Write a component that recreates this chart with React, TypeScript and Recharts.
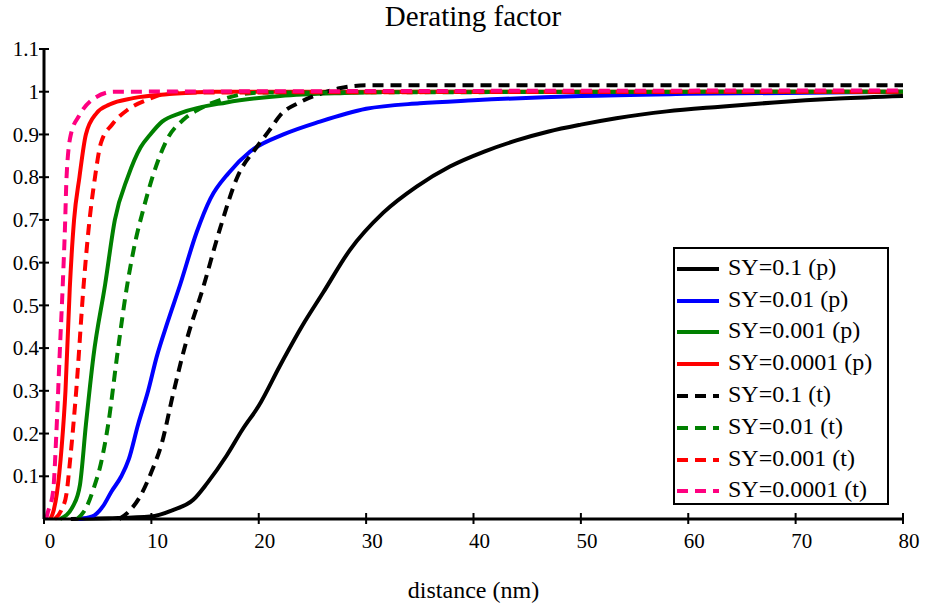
import React from 'react';
import { LineChart, Line, XAxis, YAxis, Legend } from 'recharts';

const FONT = '"Liberation Serif", "Times New Roman", serif';

const xTicks = [0, 10, 20, 30, 40, 50, 60, 70, 80];
const yTicks = [0.1, 0.2, 0.3, 0.4, 0.5, 0.6, 0.7, 0.8, 0.9, 1, 1.1];

// SY=0.1 (p)
const sy1pDist = [2.5, 6, 9.9, 12, 13.9, 15.2, 17, 18.5, 20, 22, 24, 26, 28.5, 31.6, 34.7, 37.8, 41, 44, 47, 50, 53.3, 58, 63, 68, 74, 80];
const sy1pVal = [0, 0.002, 0.006, 0.021, 0.045, 0.084, 0.148, 0.21, 0.265, 0.36, 0.45, 0.53, 0.63, 0.717, 0.778, 0.825, 0.86, 0.886, 0.907, 0.923, 0.938, 0.954, 0.965, 0.975, 0.984, 0.99];

// SY=0.01 (p)
const sy01pDist = [3.2, 4.5, 5.5, 6.3, 7.2, 7.9, 8.75, 9.7, 10.5, 11.5, 12.7, 14.2, 15.5, 17.2, 19.2, 22.3, 25.7, 30, 35, 40, 50, 60, 80];
const sy01pVal = [0, 0.006, 0.03, 0.065, 0.1, 0.14, 0.22, 0.3, 0.38, 0.46, 0.55, 0.67, 0.75, 0.81, 0.86, 0.9, 0.93, 0.96, 0.973, 0.98, 0.99, 0.995, 1.0];

// SY=0.001 (p)
const sy001pDist = [1.5, 2.7, 3.35, 3.9, 4.6, 5.7, 6.6, 7.8, 9.0, 9.9, 11, 12.7, 17, 22, 28, 35, 80];
const sy001pVal = [0, 0.03, 0.08, 0.22, 0.38, 0.55, 0.7, 0.8, 0.87, 0.9, 0.93, 0.95, 0.975, 0.99, 0.997, 1.0, 1.0];

// SY=0.0001 (p)
const sy0001pDist = [0.6, 0.9, 1.2, 1.65, 2.0, 2.4, 2.8, 3.3, 3.9, 4.9, 6.1, 8.3, 12, 16, 80];
const sy0001pVal = [0, 0.02, 0.06, 0.17, 0.3, 0.54, 0.7, 0.8, 0.9, 0.95, 0.97, 0.985, 0.995, 1.0, 1.0];

// SY=0.1 (t)
const sy1tDist = [7.0, 7.8, 9.0, 10.0, 11.0, 12.0, 13.3, 14.8, 16.4, 18.0, 19.8, 21, 22, 23.8, 25.5, 27.5, 30, 80];
const sy1tVal = [0, 0.015, 0.055, 0.11, 0.18, 0.29, 0.42, 0.54, 0.68, 0.8, 0.87, 0.91, 0.945, 0.975, 0.993, 1.008, 1.015, 1.015];

// SY=0.01 (t)
const sy01tDist = [3.1, 4.0, 4.6, 5.3, 6.0, 6.8, 7.7, 8.6, 9.2, 10.1, 11.5, 13, 14.5, 17, 20, 80];
const sy01tVal = [0, 0.03, 0.07, 0.13, 0.225, 0.38, 0.54, 0.66, 0.72, 0.8, 0.89, 0.935, 0.96, 0.985, 0.998, 1.0];

// SY=0.001 (t)
const sy001tDist = [1.0, 1.6, 2.1, 2.4, 3.0, 3.7, 4.2, 4.75, 5.3, 6.4, 7.8, 9.7, 12, 80];
const sy001tVal = [0, 0.02, 0.06, 0.13, 0.3, 0.55, 0.69, 0.8, 0.88, 0.925, 0.958, 0.982, 0.998, 1.0];

// SY=0.0001 (t)
const sy0001tDist = [0.2, 0.35, 0.85, 1.15, 1.45, 1.75, 1.95, 2.1, 2.5, 3.3, 4.7, 6.5, 80];
const sy0001tVal = [0, 0.015, 0.065, 0.2, 0.38, 0.55, 0.68, 0.8, 0.9, 0.945, 0.985, 1.0, 1.003];

const toPoints = (dist: number[], val: number[]) => dist.map((d, i) => ({ d, v: val[i] }));

const series = [
  { name: 'SY=0.1 (p)', dist: sy1pDist, val: sy1pVal, color: '#000000', dashed: false },
  { name: 'SY=0.01 (p)', dist: sy01pDist, val: sy01pVal, color: '#0000ff', dashed: false },
  { name: 'SY=0.001 (p)', dist: sy001pDist, val: sy001pVal, color: '#008000', dashed: false },
  { name: 'SY=0.0001 (p)', dist: sy0001pDist, val: sy0001pVal, color: '#ff0000', dashed: false },
  { name: 'SY=0.1 (t)', dist: sy1tDist, val: sy1tVal, color: '#000000', dashed: true },
  { name: 'SY=0.01 (t)', dist: sy01tDist, val: sy01tVal, color: '#008000', dashed: true },
  { name: 'SY=0.001 (t)', dist: sy001tDist, val: sy001tVal, color: '#ff0000', dashed: true },
  { name: 'SY=0.0001 (t)', dist: sy0001tDist, val: sy0001tVal, color: '#ff0080', dashed: true },
];

const DASH = '11 7';

function XTick({ x, y, payload }: any) {
  return (
    <g>
      <line x1={x} x2={x} y1={y - 6} y2={y + 5} stroke="#000" strokeWidth={2} />
      <text x={x + 6} y={y + 22} dy="0.34em" textAnchor="middle" fontSize={21} fontFamily={FONT} fill="#000">
        {payload.value}
      </text>
    </g>
  );
}

function YTick({ x, y, payload }: any) {
  return (
    <g>
      <line x1={x - 5} x2={x + 5} y1={y} y2={y} stroke="#000" strokeWidth={2} />
      <text x={x - 5} y={y} dy="0.34em" textAnchor="end" fontSize={21} fontFamily={FONT} fill="#000">
        {String(Number(payload.value.toFixed(1)))}
      </text>
    </g>
  );
}

function LegendBox() {
  return (
    <div style={{ border: '2px solid #000', width: 216, height: 258, boxSizing: 'border-box', background: '#fff', paddingTop: 2 }}>
      {series.map((s) => (
        <div key={s.name} style={{ display: 'flex', alignItems: 'center', height: 31.8 }}>
          <svg width={50} height={12} style={{ marginLeft: 1, marginTop: 4 }}>
            <line x1={1} x2={43} y1={6} y2={6} stroke={s.color} strokeWidth={4} strokeDasharray={s.dashed ? DASH : undefined} />
          </svg>
          <span style={{ fontFamily: FONT, fontSize: 24, color: '#000', marginLeft: 2, lineHeight: '24px' }}>{s.name}</span>
        </div>
      ))}
    </div>
  );
}

export default function App() {
  return (
    <div style={{ position: 'absolute', left: 0, top: 0, width: 925, height: 608, background: '#fff' }}>
      <div
        style={{
          position: 'absolute', left: 323, top: 2, width: 300, textAlign: 'center',
          fontFamily: FONT, fontSize: 29, lineHeight: '29px', color: '#000',
        }}
      >
        Derating factor
      </div>
      <LineChart width={925} height={608} margin={{ top: 49, right: 22, bottom: 0, left: 0 }}>
        <XAxis
          type="number"
          dataKey="d"
          domain={[0, 80]}
          ticks={xTicks}
          interval={0}
          height={89}
          tickSize={0}
          tickMargin={0}
          tick={XTick}
          axisLine={{ stroke: '#000', strokeWidth: 3 }}
          tickLine={false}
          label={{ value: 'distance (nm)', position: 'insideBottom', offset: 10, fill: '#000', fontSize: 24, fontFamily: FONT }}
        />
        <YAxis
          type="number"
          domain={[0, 1.1]}
          ticks={yTicks}
          interval={0}
          width={44}
          tickSize={0}
          tickMargin={0}
          tick={YTick}
          axisLine={{ stroke: '#000', strokeWidth: 3 }}
          tickLine={false}
        />
        <Legend
          layout="vertical"
          align="center"
          verticalAlign="middle"
          content={() => <LegendBox />}
          wrapperStyle={{ left: 673, top: 247, width: 216, height: 258 }}
        />
        {series.map((s) => (
          <Line
            key={s.name}
            name={s.name}
            data={toPoints(s.dist, s.val)}
            dataKey="v"
            type="monotone"
            stroke={s.color}
            strokeWidth={4}
            strokeDasharray={s.dashed ? DASH : undefined}
            dot={false}
            activeDot={false}
            isAnimationActive={false}
          />
        ))}
      </LineChart>
    </div>
  );
}
